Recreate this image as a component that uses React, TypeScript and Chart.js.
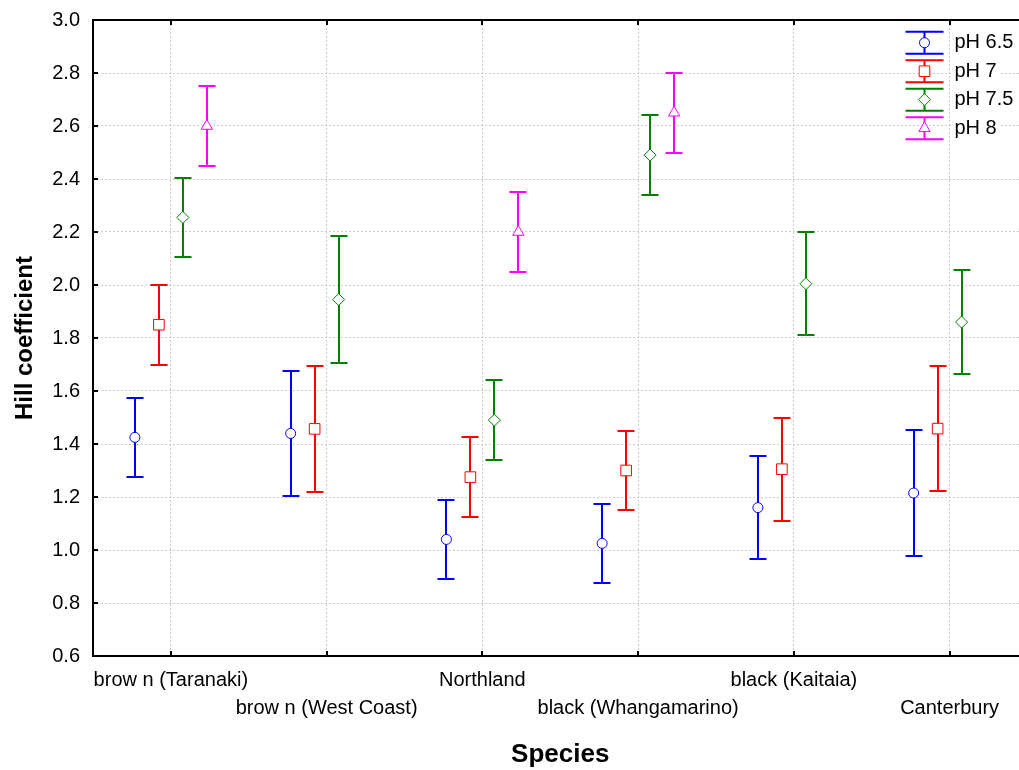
import { useEffect, useRef } from 'react';
import { Chart, registerables } from 'chart.js';

Chart.register(...registerables);

const FONT = "'Liberation Sans', Arial, sans-serif";

const SPECIES = [
  'brow n (Taranaki)',
  'brow n (West Coast)',
  'Northland',
  'black (Whangamarino)',
  'black (Kaitaia)',
  'Canterbury',
];

const SERIES_NAMES = ['pH 6.5', 'pH 7', 'pH 7.5', 'pH 8'];
const SERIES_COLORS = ['#0000ff', '#ff0000', '#008000', '#ff00ff'];
const SERIES_MARKERS = ['circle', 'rect', 'rectRot', 'triangle'];
const SERIES_MARKER_RADIUS = [5, 7.5, 6, 6.5];
const SERIES_OFFSETS = [-0.231, -0.077, 0.077, 0.231];

// Means
const MEAN_PH65 = [1.425, 1.44, 1.04, 1.025, 1.16, 1.215];
const MEAN_PH7 = [1.85, 1.457, 1.275, 1.3, 1.305, 1.458];
const MEAN_PH75 = [2.255, 1.945, 1.49, 2.49, 2.005, 1.86];
const MEAN_PH8 = [2.6, null, 2.2, 2.65, null, null];

// Error (half-width)
const ERR_PH65 = [0.15, 0.237, 0.15, 0.15, 0.195, 0.237];
const ERR_PH7 = [0.15, 0.238, 0.15, 0.15, 0.195, 0.237];
const ERR_PH75 = [0.15, 0.239, 0.15, 0.15, 0.195, 0.195];
const ERR_PH8 = [0.15, null, 0.15, 0.15, null, null];

const MEANS: (number | null)[][] = [MEAN_PH65, MEAN_PH7, MEAN_PH75, MEAN_PH8];
const ERRS: (number | null)[][] = [ERR_PH65, ERR_PH7, ERR_PH75, ERR_PH8];

const Y_TICKS = [0.6, 0.8, 1.0, 1.2, 1.4, 1.6, 1.8, 2.0, 2.2, 2.4, 2.6, 2.8, 3.0];

const errorBarPlugin = {
  id: 'errorBars',
  beforeDatasetsDraw(chart: any) {
    const { ctx, scales } = chart;
    const x = scales.x;
    const y = scales.y;
    ctx.save();
    chart.data.datasets.forEach((ds: any) => {
      ds.data.forEach((pt: any) => {
        const e = pt.e;
        if (e == null) return;
        const px = Math.round(x.getPixelForValue(pt.x));
        const yt = Math.round(y.getPixelForValue(pt.y + e));
        const yb = Math.round(y.getPixelForValue(pt.y - e));
        ctx.strokeStyle = ds.borderColor;
        ctx.lineWidth = 2;
        ctx.beginPath();
        ctx.moveTo(px, yt);
        ctx.lineTo(px, yb);
        ctx.moveTo(px - 8.5, yt);
        ctx.lineTo(px + 8.5, yt);
        ctx.moveTo(px - 8.5, yb);
        ctx.lineTo(px + 8.5, yb);
        ctx.stroke();
      });
    });
    ctx.restore();
  },
};

const framePlugin = {
  id: 'frame',
  beforeDatasetsDraw(chart: any) {
    const { ctx, chartArea, scales } = chart;
    const { left, right, top, bottom } = chartArea;
    ctx.save();
    ctx.strokeStyle = '#000';
    ctx.lineWidth = 2;
    ctx.beginPath();
    ctx.moveTo(left, top);
    ctx.lineTo(right, top);
    ctx.moveTo(left, bottom);
    ctx.lineTo(right, bottom);
    ctx.moveTo(left, top - 1);
    ctx.lineTo(left, bottom + 1);
    ctx.moveTo(right, top - 1);
    ctx.lineTo(right, bottom + 1);
    scales.y.ticks.forEach((t: any) => {
      const py = Math.round(scales.y.getPixelForValue(t.value));
      ctx.moveTo(left, py);
      ctx.lineTo(left + 5, py);
    });
    scales.x.ticks.forEach((t: any) => {
      const px = Math.round(scales.x.getPixelForValue(t.value));
      ctx.moveTo(px, bottom);
      ctx.lineTo(px, bottom - 5);
      ctx.moveTo(px, top);
      ctx.lineTo(px, top + 5);
    });
    ctx.stroke();
    ctx.restore();
  },
};

function drawMarker(ctx: CanvasRenderingContext2D, style: string, r: number, x: number, y: number) {
  ctx.beginPath();
  if (style === 'circle') {
    ctx.arc(x, y, r, 0, Math.PI * 2);
  } else if (style === 'rect') {
    const s = r * Math.SQRT1_2;
    ctx.rect(x - s, y - s, 2 * s, 2 * s);
  } else if (style === 'rectRot') {
    ctx.moveTo(x, y - r);
    ctx.lineTo(x + r, y);
    ctx.lineTo(x, y + r);
    ctx.lineTo(x - r, y);
    ctx.closePath();
  } else {
    const h = r * 1.5;
    const w = (r * Math.sqrt(3)) / 2;
    ctx.moveTo(x, y - r);
    ctx.lineTo(x + w, y - r + h);
    ctx.lineTo(x - w, y - r + h);
    ctx.closePath();
  }
  ctx.fillStyle = '#fff';
  ctx.fill();
  ctx.stroke();
}

const legendPlugin = {
  id: 'errLegend',
  afterDraw(chart: any) {
    const { ctx, chartArea } = chart;
    const cx = chartArea.right - 103;
    const tx = chartArea.right - 73;
    ctx.save();
    ctx.font = `20px ${FONT}`;
    ctx.textBaseline = 'middle';
    ctx.textAlign = 'left';
    SERIES_NAMES.forEach((name, i) => {
      const cy = chartArea.top + 22.7 + i * 28.5;
      const col = SERIES_COLORS[i];
      const w = ctx.measureText(name).width;
      ctx.fillStyle = '#fff';
      ctx.fillRect(tx - 2, cy - 11, w + 4, 22);
      ctx.strokeStyle = col;
      ctx.lineWidth = 2;
      ctx.beginPath();
      ctx.moveTo(cx, cy - 11);
      ctx.lineTo(cx, cy + 11);
      ctx.moveTo(cx - 19, cy - 11);
      ctx.lineTo(cx + 19, cy - 11);
      ctx.moveTo(cx - 19, cy + 11);
      ctx.lineTo(cx + 19, cy + 11);
      ctx.stroke();
      ctx.lineWidth = 1;
      drawMarker(ctx, SERIES_MARKERS[i], SERIES_MARKER_RADIUS[i], cx, cy);
      ctx.fillStyle = '#000';
      ctx.fillText(name, tx, cy);
    });
    ctx.restore();
  },
};

export default function App() {
  const ref = useRef<HTMLCanvasElement>(null);
  useEffect(() => {
    const datasets = SERIES_NAMES.map((name, i) => {
      const pts: { x: number; y: number; e: number }[] = [];
      MEANS[i].forEach((m, j) => {
        const e = ERRS[i][j];
        if (m != null && e != null) pts.push({ x: j + 1 + SERIES_OFFSETS[i], y: m, e });
      });
      return {
        label: name,
        data: pts,
        borderColor: SERIES_COLORS[i],
        backgroundColor: '#ffffff',
        pointStyle: SERIES_MARKERS[i],
        pointRadius: SERIES_MARKER_RADIUS[i],
        pointBorderWidth: 1,
        pointBackgroundColor: '#ffffff',
        pointBorderColor: SERIES_COLORS[i],
        showLine: false,
      };
    });
    const chart = new Chart(ref.current as HTMLCanvasElement, {
      type: 'scatter',
      data: { datasets: datasets as any },
      plugins: [framePlugin, errorBarPlugin, legendPlugin],
      options: {
        animation: false,
        responsive: false,
        events: [],
        layout: { padding: { top: 20, right: 2, left: 0, bottom: 0 } },
        plugins: {
          legend: { display: false },
          tooltip: { enabled: false },
        },
        scales: {
          x: {
            type: 'linear',
            min: 0.5,
            max: 6.5,
            afterBuildTicks: (s: any) => {
              s.ticks = SPECIES.map((_, i) => ({ value: i + 1 }));
            },
            afterFit: (s: any) => {
              s.height = 114;
              s.paddingLeft = 0;
              s.paddingRight = 0;
              s.paddingTop = 0;
              s.paddingBottom = 0;
            },
            ticks: {
              autoSkip: false,
              maxRotation: 0,
              minRotation: 0,
              padding: 10,
              color: '#000',
              font: { family: FONT, size: 20, lineHeight: 1.4 },
              callback: (v: any) => {
                const i = Math.round(Number(v)) - 1;
                const name = SPECIES[i];
                return i % 2 === 0 ? name : ['', name];
              },
            },
            grid: { color: '#cccccc', lineWidth: 1, drawTicks: false },
            border: { display: false, dash: [2, 2] },
            title: {
              display: true,
              text: 'Species',
              color: '#000',
              font: { family: FONT, size: 26, weight: 'bold' },
              padding: { top: 0, bottom: 0 },
            },
          },
          y: {
            type: 'linear',
            min: 0.6,
            max: 3.0,
            afterBuildTicks: (s: any) => {
              s.ticks = Y_TICKS.map((v) => ({ value: v }));
            },
            afterFit: (s: any) => {
              s.width = 93;
              s.paddingLeft = 0;
              s.paddingRight = 0;
              s.paddingTop = 0;
              s.paddingBottom = 0;
            },
            ticks: {
              padding: 13,
              color: '#000',
              font: { family: FONT, size: 20 },
              callback: (v: any) => Number(v).toFixed(1),
            },
            grid: { color: '#cccccc', lineWidth: 1, drawTicks: false },
            border: { display: false, dash: [2, 2] },
            title: {
              display: true,
              text: 'Hill coefficient',
              color: '#000',
              font: { family: FONT, size: 24, weight: 'bold' },
              padding: { top: 11, bottom: 0 },
            },
          },
        },
      } as any,
    });
    return () => chart.destroy();
  }, []);
  return (
    <div
      style={{
        position: 'absolute',
        left: 0,
        top: 0,
        width: 1019,
        height: 770,
        overflow: 'hidden',
        background: '#fff',
      }}
    >
      <canvas ref={ref} width={1036} height={770} style={{ display: 'block' }} />
    </div>
  );
}
